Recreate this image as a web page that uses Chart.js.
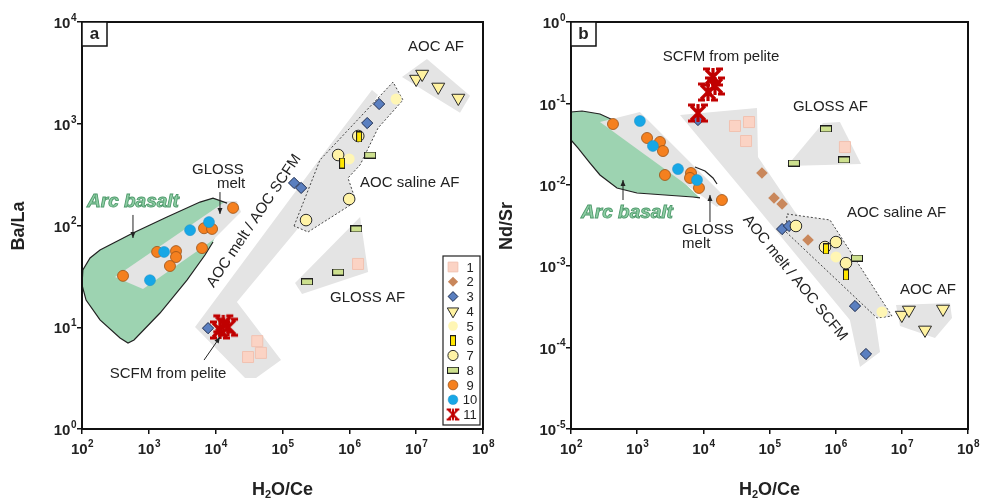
<!DOCTYPE html>
<html>
<head>
<meta charset="utf-8">
<script src="https://cdn.jsdelivr.net/npm/chart.js@4.4.1/dist/chart.umd.min.js"></script>
<style>
  html, body { margin: 0; padding: 0; background: #fff; }
  #wrap { position: relative; width: 984px; height: 501px; }
  canvas { position: absolute; top: 0; }
  #chartA { left: 0; }
  #chartB { left: 492px; }
</style>
</head>
<body>
<div id="wrap">
  <canvas id="chartA" width="510" height="501"></canvas>
  <canvas id="chartB" width="492" height="501"></canvas>
</div>
<script>
// ---- axes ----
const ticksX = [1e2, 1e3, 1e4, 1e5, 1e6, 1e7, 1e8];
const ticksYA = [1e0, 1e1, 1e2, 1e3, 1e4];
const ticksYB = [1e-5, 1e-4, 1e-3, 1e-2, 1e-1, 1e0];

// ---- panel a : H2O/Ce vs Ba/La ----
const a1 = [[41900, 7.3], [30500, 5.1], [47500, 5.6], [1.35e6, 41.9]];
const a3 = [[7690, 9.8], [2.79e6, 1563], [1.85e6, 1016], [149000, 262], [190000, 234]];
const a4 = [[1.0e7, 2750], [1.23e7, 3080], [2.14e7, 2300], [4.27e7, 1790]];
const a5 = [[5.0e6, 1750], [994000, 451]];
const a6 = [[1.4e6, 741], [780000, 411]];
const a7 = [[680000, 493], [994000, 182], [225000, 113], [1.36e6, 758]];
const a8 = [[233000, 27.9], [680000, 34.9], [2.05e6, 493], [1.27e6, 92.5]];
const a9 = [[18200, 149], [6700, 94], [8830, 92.5], [6250, 60], [1330, 55], [2550, 56], [2550, 49], [2070, 40], [411, 32]];
const a10 = [[7940, 108], [4140, 90], [1690, 55], [1040, 29]];
const a11 = [[11600, 9.4], [15300, 10.0], [13000, 10.8]];

const arcA = [[14800, 166], [9120, 186], [5830, 170], [1870, 121], [579, 84.4], [186, 57.4], [132, 48], [103, 36.6], [100, 26], [115, 18.5], [186, 11.8], [371, 7.84], [488, 7.0], [600, 7.5], [1470, 13.8], [3720, 29.1], [6920, 51.3], [9120, 68.9], [11600, 101]];
const arcLineA = [[14800, 166], [9120, 186], [5830, 170], [1870, 121], [579, 84.4], [186, 57.4], [132, 48], [103, 36.6], [100, 26], [115, 18.5], [186, 11.8], [371, 7.84], [488, 7.0], [600, 7.5], [1470, 13.8], [3720, 29.1], [6920, 51.3], [9120, 68.9]];
const glossMeltA = [[312, 31.2], [818, 23.8], [9120, 71.9], [23900, 136], [20800, 174], [14300, 174]];
const bandA = [[4910, 10.05], [27500, 3.17], [40200, 3.17], [95100, 4.76], [20800, 17.7], [183000, 98.9], [2.69e6, 1920], [2.18e6, 2150], [514000, 618]];
const salineA = [[149000, 98.9], [364000, 441], [4.51e6, 2570], [6.35e6, 1710], [2.69e6, 908], [1.45e6, 394], [955000, 293], [1.18e6, 195], [1.10e6, 163], [241000, 86.3]];
const glossAfA = [[1.45e6, 121], [1.91e6, 34.9], [196000, 21.2], [154000, 27.2]];
const aocAfA = [[6.14e6, 2880], [1.45e7, 4330], [6.4e7, 1880], [4.53e7, 1280]];

// ---- panel b : H2O/Ce vs Nd/Sr ----
const b1 = [[30100, 0.0528], [49000, 0.059], [44200, 0.0345], [1.38e6, 0.0291]];
const b2 = [[76900, 0.01396], [117000, 0.00689], [155000, 0.00581], [382000, 0.0021]];
const b3 = [[8300, 0.0625], [155000, 0.00286], [197000, 0.00312], [1.96e6, 0.000324], [2.87e6, 0.0000834]];
const b4 = [[1.0e7, 0.000251], [1.28e7, 0.00029], [2.24e7, 0.000165], [4.19e7, 0.000298]];
const b5 = [[1.01e6, 0.0013], [5.0e6, 0.000274]];
const b6 = [[714000, 0.00163], [1.43e6, 0.00078]];
const b7 = [[251000, 0.00312], [1.01e6, 0.00198], [1.43e6, 0.00109], [690000, 0.00172]];
const b8 = [[714000, 0.0485], [234000, 0.0185], [1.34e6, 0.0202], [2.1e6, 0.00126]];
const b9 = [[431, 0.0558], [1410, 0.0376], [2210, 0.0336], [2455, 0.026], [2630, 0.0132], [6510, 0.01396], [6290, 0.01213], [8590, 0.00914], [19100, 0.0065]];
const b10 = [[1100, 0.0608], [1730, 0.030], [4140, 0.0156], [8020, 0.01145]];
const b11 = [[14000, 0.211], [15000, 0.1637], [11750, 0.138], [8300, 0.0762]];

const arcB = [[100, 0.0784], [147, 0.0807], [274, 0.0741], [431, 0.0625], [1560, 0.0268], [8910, 0.00689], [6980, 0.00708], [994, 0.00793], [495, 0.00914], [274, 0.0132], [194, 0.0185], [128, 0.0283], [100, 0.0355]];
const arcTopB = [[100, 0.0784], [147, 0.0807], [274, 0.0741], [431, 0.0625]];
const arcBottomB = [[100, 0.0355], [128, 0.0283], [194, 0.0185], [274, 0.0132], [495, 0.00914], [994, 0.00793], [6980, 0.00708], [8910, 0.00689]];
const arcTipB = [[7480, 0.01655], [10600, 0.01478], [14000, 0.01213], [16100, 0.01023]];
const glossMeltB = [[274, 0.0591], [1100, 0.0784], [23600, 0.0065], [16100, 0.00533]];
const bandB = [[4440, 0.072], [64700, 0.0878], [67000, 0.022], [243000, 0.00463], [2.33e6, 0.000677], [3.93e6, 0.000231], [4.68e6, 0.0000883], [2.33e6, 0.0000578], [1.64e6, 0.000218], [35800, 0.0094]];
const salineB = [[184000, 0.00438], [820000, 0.0037], [7.1e6, 0.000244], [4.21e6, 0.000231], [178000, 0.00263]];
const glossAfB = [[184000, 0.017], [643000, 0.0574], [1.16e6, 0.059], [2.42e6, 0.018]];
const aocAfB = [[8.17e6, 0.000334], [5.35e7, 0.000353], [5.73e7, 0.000231], [3.17e7, 0.000131], [9.38e6, 0.000184]];

const FONT = '"Liberation Sans", Arial, sans-serif';
const GRAY = '#e4e4e4';
const GREEN = '#9dd3b1';

// small bitmap markers for the shapes Chart.js does not have
function boxMark(w, h, fill, stroke) {
    const c = document.createElement('canvas');
    c.width = w; c.height = h;
    const g = c.getContext('2d');
    g.fillStyle = fill; g.fillRect(0, 0, w, h);
    g.strokeStyle = stroke; g.lineWidth = 1; g.strokeRect(0.5, 0.5, w - 1, h - 1);
    return c;
}
function starMark(n) {
    const c = document.createElement('canvas');
    c.width = n; c.height = n;
    const g = c.getContext('2d');
    const k = n / 22;
    g.scale(k, k);
    g.strokeStyle = '#c00000'; g.lineWidth = 3.2;
    g.beginPath();
    g.moveTo(4, 4); g.lineTo(18, 18);
    g.moveTo(18, 4); g.lineTo(4, 18);
    g.moveTo(11, 2); g.lineTo(11, 20);
    g.moveTo(1, 3); g.lineTo(8, 3); g.moveTo(14, 3); g.lineTo(21, 3);
    g.moveTo(1, 19); g.lineTo(8, 19); g.moveTo(14, 19); g.lineTo(21, 19);
    g.stroke();
    return c;
}

const marks = {
    1: { pointStyle: 'rect', radius: 7.8, bg: '#fbd3c4', border: '#f1c2b1', bw: 1 },
    2: { pointStyle: 'rectRot', radius: 5.8, bg: '#c9875b', border: '#c9875b', bw: 0 },
    3: { pointStyle: 'rectRot', radius: 5.6, bg: '#5a7fc0', border: '#1e2c4e', bw: 1 },
    4: { pointStyle: 'triangle', rotation: 180, radius: 7.5, bg: '#fff2a0', border: '#2b2b2b', bw: 1 },
    5: { pointStyle: 'circle', radius: 5.5, bg: '#fff6b4', border: '#fff6b4', bw: 0 },
    6: { pointStyle: boxMark(6, 11, '#ffe600', '#1e1e1e'), radius: 6, bg: '#ffe600', border: '#1e1e1e', bw: 0 },
    7: { pointStyle: 'circle', radius: 5.8, bg: '#fff3a6', border: '#2b2b2b', bw: 1 },
    8: { pointStyle: boxMark(12, 7, '#cde08e', '#1e1e1e'), radius: 6, bg: '#cde08e', border: '#1e1e1e', bw: 0 },
    9: { pointStyle: 'circle', radius: 5.5, bg: '#f5801f', border: '#9a5216', bw: 0.8 },
    10: { pointStyle: 'circle', radius: 5.5, bg: '#17a7e6', border: '#1a8dc4', bw: 0.5 },
    11: { pointStyle: starMark(22), legendStyle: starMark(14), radius: 6, bg: '#c00000', border: '#c00000', bw: 0 }
};
// first in list is drawn on top
const markOrder = [11, 6, 7, 5, 8, 4, 3, 2, 1, 10, 9];

function pts(arr) { return arr.map(p => ({ x: p[0], y: p[1] })); }

function pointSet(id, arr) {
    const m = marks[id];
    return {
        type: 'scatter', data: pts(arr), order: markOrder.indexOf(id) + 1,
        pointStyle: m.pointStyle, pointRadius: m.radius, pointRotation: m.rotation || 0,
        pointBackgroundColor: m.bg, pointBorderColor: m.border, pointBorderWidth: m.bw,
        pointHoverRadius: m.radius
    };
}
function region(arr, color, order, dotted) {
    const d = pts(arr);
    d.push(d[0]);
    return {
        type: 'line', data: d, order: order, fill: 'shape', backgroundColor: color,
        borderColor: dotted ? '#444' : 'rgba(0,0,0,0)', borderWidth: dotted ? 1 : 0,
        borderDash: dotted ? [2, 2] : [], pointRadius: 0, tension: 0
    };
}
function outline(arr, order) {
    return { type: 'line', data: pts(arr), order: order, fill: false, borderColor: '#222',
        borderWidth: 1.2, pointRadius: 0, tension: 0 };
}

function arrow(ctx, x1, y1, x2, y2) {
    ctx.beginPath(); ctx.moveTo(x1, y1); ctx.lineTo(x2, y2); ctx.stroke();
    const a = Math.atan2(y2 - y1, x2 - x1), h = 6, w = 2.5;
    ctx.beginPath();
    ctx.moveTo(x2, y2);
    ctx.lineTo(x2 - h * Math.cos(a) + w * Math.sin(a), y2 - h * Math.sin(a) - w * Math.cos(a));
    ctx.lineTo(x2 - h * Math.cos(a) - w * Math.sin(a), y2 - h * Math.sin(a) + w * Math.cos(a));
    ctx.closePath(); ctx.fill();
}

function powLabel(ctx, e, x, y, align) {
    const base = 'bold 15px ' + FONT, sup = 'bold 10px ' + FONT;
    ctx.font = base; const wb = ctx.measureText('10').width;
    ctx.font = sup; const we = ctx.measureText(String(e)).width;
    const left = align === 'center' ? x - (wb + we) / 2 : x - wb - we;
    ctx.textAlign = 'left'; ctx.textBaseline = 'middle';
    ctx.font = base; ctx.fillText('10', left, y);
    ctx.font = sup; ctx.fillText(String(e), left + wb + 0.5, y - 6);
}

// everything that is not a data mark: frame, tick labels, titles, notes, legend
function decor(cfg) {
    return {
        id: 'decor',
        afterDatasetsDraw(chart) {
            const ctx = chart.ctx, ca = chart.chartArea, sx = chart.scales.x, sy = chart.scales.y;
            const P = (x, y) => [sx.getPixelForValue(x), sy.getPixelForValue(y)];
            ctx.save();
            ctx.strokeStyle = '#111'; ctx.lineWidth = 2;
            ctx.strokeRect(ca.left, ca.top, ca.right - ca.left, ca.bottom - ca.top);
            ctx.fillStyle = '#222';
            ticksX.forEach(v => powLabel(ctx, Math.round(Math.log10(v)), sx.getPixelForValue(v), ca.bottom + 21, 'center'));
            cfg.ticksY.forEach(v => powLabel(ctx, Math.round(Math.log10(v)), ca.left - 6, sy.getPixelForValue(v) + 2, 'right'));

            // axis titles
            ctx.font = 'bold 18px ' + FONT; ctx.textBaseline = 'middle';
            const t1 = 'H', t2 = '2', t3 = 'O/Ce';
            const w1 = ctx.measureText(t1).width, w3 = ctx.measureText(t3).width;
            ctx.font = 'bold 11px ' + FONT; const w2 = ctx.measureText(t2).width;
            let tx = (ca.left + ca.right) / 2 - (w1 + w2 + w3) / 2;
            ctx.textAlign = 'left';
            ctx.font = 'bold 18px ' + FONT; ctx.fillText(t1, tx, 490);
            ctx.font = 'bold 11px ' + FONT; ctx.fillText(t2, tx + w1, 495);
            ctx.font = 'bold 18px ' + FONT; ctx.fillText(t3, tx + w1 + w2, 490);
            ctx.save();
            ctx.translate(cfg.yTitleX, 226); ctx.rotate(-Math.PI / 2);
            ctx.textAlign = 'center'; ctx.fillText(cfg.yTitle, 0, 0);
            ctx.restore();

            // panel letter
            ctx.fillStyle = '#fff'; ctx.fillRect(ca.left, ca.top, 25, 24);
            ctx.lineWidth = 1.5; ctx.strokeRect(ca.left, ca.top, 25, 24);
            ctx.fillStyle = '#222'; ctx.font = 'bold 17px ' + FONT; ctx.textAlign = 'center';
            ctx.fillText(cfg.letter, ca.left + 12.5, ca.top + 12);

            // notes
            ctx.font = '15px ' + FONT;
            cfg.notes.forEach(n => {
                const [x, y] = P(n.x, n.y);
                ctx.save(); ctx.translate(x, y); ctx.rotate((n.rot || 0) * Math.PI / 180);
                ctx.textAlign = n.align; ctx.fillText(n.t, 0, 0);
                ctx.restore();
            });
            ctx.strokeStyle = '#222'; ctx.lineWidth = 1;
            cfg.arrows.forEach(a => {
                const [x1, y1] = P(a[0][0], a[0][1]), [x2, y2] = P(a[1][0], a[1][1]);
                arrow(ctx, x1, y1, x2, y2);
            });
            const [ax, ay] = P(cfg.arc[0], cfg.arc[1]);
            ctx.font = 'italic bold 19px ' + FONT; ctx.textAlign = 'center';
            ctx.fillStyle = '#8fcfa5'; ctx.fillText('Arc basalt', ax, ay);
            ctx.strokeStyle = '#4f9a6c'; ctx.lineWidth = 0.9; ctx.strokeText('Arc basalt', ax, ay);

            if (cfg.legend) {
                const bx = ca.right - 40, by = ca.bottom - 173;
                ctx.fillStyle = '#fff'; ctx.fillRect(bx, by, 37, 169);
                ctx.strokeStyle = '#222'; ctx.lineWidth = 1.2; ctx.strokeRect(bx, by, 37, 169);
                for (let i = 1; i <= 11; i++) {
                    const m = marks[i], yy = by + 11 + (i - 1) * 14.75;
                    ctx.fillStyle = m.bg; ctx.strokeStyle = m.border; ctx.lineWidth = m.bw;
                    Chart.helpers.drawPoint(ctx, { pointStyle: m.legendStyle || m.pointStyle, radius: m.radius * 0.88,
                        rotation: m.rotation || 0, borderWidth: m.bw }, bx + 10, yy);
                    ctx.fillStyle = '#222'; ctx.font = '13px ' + FONT; ctx.textAlign = 'center';
                    ctx.fillText(String(i), bx + 27, yy + 1);
                }
            }
            ctx.restore();
        }
    };
}

function makeScales(yMin, yMax, yTicks, yWidth) {
    const common = {
        type: 'logarithmic',
        ticks: { display: false },
        grid: { drawOnChartArea: false, drawTicks: true, tickLength: 5, color: '#111', lineWidth: 1.5 },
        border: { display: true, color: '#111', width: 2 }
    };
    return {
        x: Object.assign({}, common, { min: 1e2, max: 1e8,
            afterBuildTicks: s => { s.ticks = ticksX.map(v => ({ value: v })); },
            afterFit: s => { s.height = 72; } }),
        y: Object.assign({}, common, { min: yMin, max: yMax,
            afterBuildTicks: s => { s.ticks = yTicks.map(v => ({ value: v })); },
            afterFit: s => { s.width = yWidth; } })
    };
}

function baseOptions(scales, rightPad) {
    return {
        responsive: false, animation: false, events: [],
        layout: { padding: { left: 0, right: rightPad, top: 22, bottom: 0 }, autoPadding: false },
        plugins: { legend: { display: false }, tooltip: { enabled: false } },
        scales: scales
    };
}

new Chart(document.getElementById('chartA').getContext('2d'), {
    type: 'scatter',
    data: {
        datasets: [
            region(arcA, GREEN, 40),
            region(glossMeltA, GRAY, 39),
            region(bandA, GRAY, 38),
            region(glossAfA, GRAY, 37),
            region(aocAfA, GRAY, 36),
            region(salineA, GRAY, 35, true),
            outline(arcLineA, 34),
            pointSet(9, a9), pointSet(10, a10), pointSet(1, a1), pointSet(3, a3),
            pointSet(4, a4), pointSet(8, a8), pointSet(5, a5), pointSet(7, a7),
            pointSet(6, a6), pointSet(11, a11)
        ]
    },
    options: baseOptions(makeScales(1e0, 1e4, ticksYA, 82), 27),
    plugins: [decor({
        letter: 'a', yTitle: 'Ba/La', yTitleX: 19, ticksY: ticksYA, legend: true,
        arc: [579, 170],
        notes: [
            { t: 'GLOSS', x: 10800, y: 351, align: 'center' },
            { t: 'melt', x: 17000, y: 256, align: 'center' },
            { t: 'AOC saline AF', x: 1.45e6, y: 262, align: 'left' },
            { t: 'AOC AF', x: 7.55e6, y: 5680, align: 'left' },
            { t: 'GLOSS AF', x: 514000, y: 19.4, align: 'left' },
            { t: 'SCFM from pelite', x: 1940, y: 3.48, align: 'center' },
            { t: 'AOC melt / AOC SCFM', x: 37500, y: 111, align: 'center', rot: -56 }
        ],
        arrows: [
            [[11600, 213], [11600, 130]],
            [[579, 127], [579, 75.4]],
            [[6700, 4.76], [11600, 8.0]]
        ]
    })]
});

new Chart(document.getElementById('chartB').getContext('2d'), {
    type: 'scatter',
    data: {
        datasets: [
            region(arcB, GREEN, 40),
            region(glossMeltB, GRAY, 39),
            region(bandB, GRAY, 38),
            region(glossAfB, GRAY, 37),
            region(aocAfB, GRAY, 36),
            region(salineB, GRAY, 35, true),
            outline(arcTopB, 34), outline(arcBottomB, 34), outline(arcTipB, 34),
            pointSet(9, b9), pointSet(10, b10), pointSet(1, b1), pointSet(2, b2), pointSet(3, b3),
            pointSet(4, b4), pointSet(8, b8), pointSet(5, b5), pointSet(7, b7),
            pointSet(6, b6), pointSet(11, b11)
        ]
    },
    options: baseOptions(makeScales(1e-5, 1e0, ticksYB, 79), 16),
    plugins: [decor({
        letter: 'b', yTitle: 'Nd/Sr', yTitleX: 15, ticksY: ticksYB, legend: false,
        arc: [702, 0.00451],
        notes: [
            { t: 'SCFM from pelite', x: 18500, y: 0.3715, align: 'center' },
            { t: 'GLOSS AF', x: 226000, y: 0.0903, align: 'left' },
            { t: 'AOC saline AF', x: 1.48e6, y: 0.00451, align: 'left' },
            { t: 'AOC AF', x: 9.38e6, y: 0.00051, align: 'left' },
            { t: 'GLOSS', x: 4770, y: 0.00279, align: 'left' },
            { t: 'melt', x: 4770, y: 0.001875, align: 'left' },
            { t: 'AOC melt / AOC SCFM', x: 243000, y: 0.000716, align: 'center', rot: 51 }
        ],
        arrows: [
            [[611, 0.0065], [611, 0.01145]],
            [[12600, 0.00349], [12600, 0.0075]]
        ]
    })]
});
</script>
</body>
</html>
